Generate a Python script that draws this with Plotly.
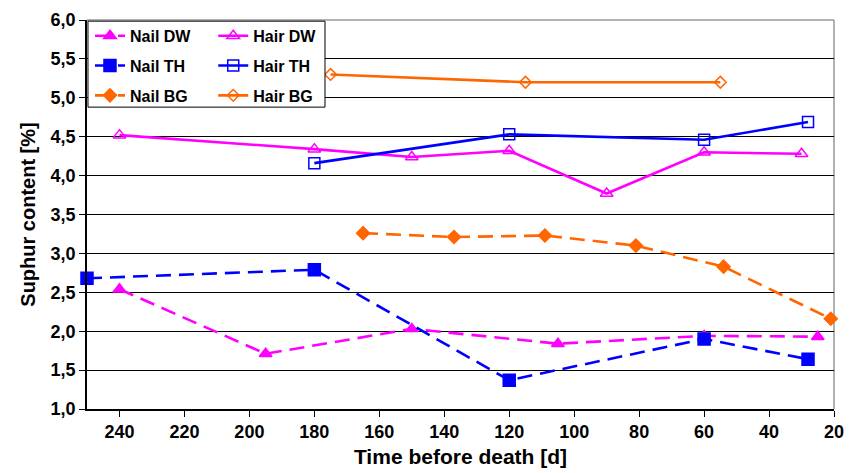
import plotly.graph_objects as go

# Data
nail_dw_x = [240, 195, 150, 105, 60, 25]
nail_dw_y = [2.54, 1.71, 2.03, 1.84, 1.94, 1.93]
nail_th_x = [250, 180, 120, 60, 28]
nail_th_y = [2.68, 2.79, 1.37, 1.90, 1.64]
nail_bg_x = [165, 137, 109, 81, 54, 21]
nail_bg_y = [3.26, 3.21, 3.23, 3.10, 2.83, 2.16]
hair_dw_x = [240, 180, 150, 120, 90, 60, 30]
hair_dw_y = [4.52, 4.34, 4.24, 4.32, 3.77, 4.30, 4.28]
hair_th_x = [180, 120, 60, 28]
hair_th_y = [4.16, 4.53, 4.46, 4.69]
hair_bg_x = [175, 115, 55]
hair_bg_y = [5.30, 5.20, 5.20]

x_ticks = [240, 220, 200, 180, 160, 140, 120, 100, 80, 60, 40, 20]

MAG = "#FF00FF"
BLU = "#0000FF"
ORA = "#FF6600"
DASH = "15px,8px"

fig = go.Figure()

def add(name, x, y, color, symbol, size, dash, legend):
    fig.add_trace(go.Scatter(
        x=x, y=y, name=name, mode="lines+markers",
        line=dict(color=color, width=2.6, dash=dash),
        marker=dict(symbol=symbol, size=size, color=color,
                    line=dict(color=color, width=1.5)),
        legend=legend, legendgroup=name, cliponaxis=False,
    ))

add("Nail DW", nail_dw_x, nail_dw_y, MAG, "triangle-up", 11, DASH, "legend")
add("Nail TH", nail_th_x, nail_th_y, BLU, "square", 12, DASH, "legend")
add("Nail BG", nail_bg_x, nail_bg_y, ORA, "diamond", 10, DASH, "legend")
add("Hair DW", hair_dw_x, hair_dw_y, MAG, "triangle-up-open", 11, "solid", "legend2")
add("Hair TH", hair_th_x, hair_th_y, BLU, "square-open", 11, "solid", "legend2")
add("Hair BG", hair_bg_x, hair_bg_y, ORA, "diamond-open", 9, "solid", "legend2")

font_fam = "Liberation Sans, Arial, sans-serif"
legfont = dict(family=font_fam, size=16, color="black", weight="bold")

fig.update_layout(
    width=856, height=473,
    margin=dict(l=87, r=22, t=20, b=64),
    paper_bgcolor="white", plot_bgcolor="white",
    separators=",.",
    font=dict(family=font_fam, color="black"),
    legend=dict(x=0.004, y=1.003, xanchor="left", yanchor="top",
                bgcolor="rgba(0,0,0,0)", font=legfont,
                tracegroupgap=6, itemwidth=30),
    legend2=dict(x=0.169, y=1.003, xanchor="left", yanchor="top",
                 bgcolor="rgba(0,0,0,0)", font=legfont,
                 tracegroupgap=6, itemwidth=30),
    xaxis=dict(
        range=[250, 20], tickmode="array", tickvals=x_ticks,
        ticks="outside", ticklen=6, tickcolor="black",
        showgrid=False, zeroline=False, automargin=False,
        showline=True, linecolor="black", linewidth=1.5,
        tickfont=dict(family=font_fam, size=18, weight="bold"),
        title=dict(text="Time before death [d]", standoff=8,
                   font=dict(family=font_fam, size=21, weight="bold")),
    ),
    yaxis=dict(
        range=[1.0, 6.0], tickmode="linear", tick0=1.0, dtick=0.5,
        tickformat=".1f", automargin=False,
        ticks="outside", ticklen=6, tickcolor="black",
        showgrid=True, gridcolor="black", gridwidth=1,
        zeroline=False,
        showline=True, linecolor="black", linewidth=1.5,
        tickfont=dict(family=font_fam, size=18, weight="bold"),
        title=dict(text="Suphur content [%]", standoff=10,
                   font=dict(family=font_fam, size=20, weight="bold")),
    ),
    shapes=[
        # top and right frame (gray)
        dict(type="line", xref="paper", yref="paper", x0=0, x1=1, y0=1, y1=1,
             line=dict(color="#999999", width=1.5), layer="below"),
        dict(type="line", xref="paper", yref="paper", x0=1, x1=1, y0=0, y1=1,
             line=dict(color="#999999", width=1.5), layer="below"),
        # legend box
        dict(type="rect", xref="paper", yref="paper",
             x0=0.0013, x1=0.3186, y0=0.997, y1=0.776,
             line=dict(color="black", width=1), fillcolor="white", layer="above",
             opacity=1),
    ],
)

fig.write_html("out.html")
